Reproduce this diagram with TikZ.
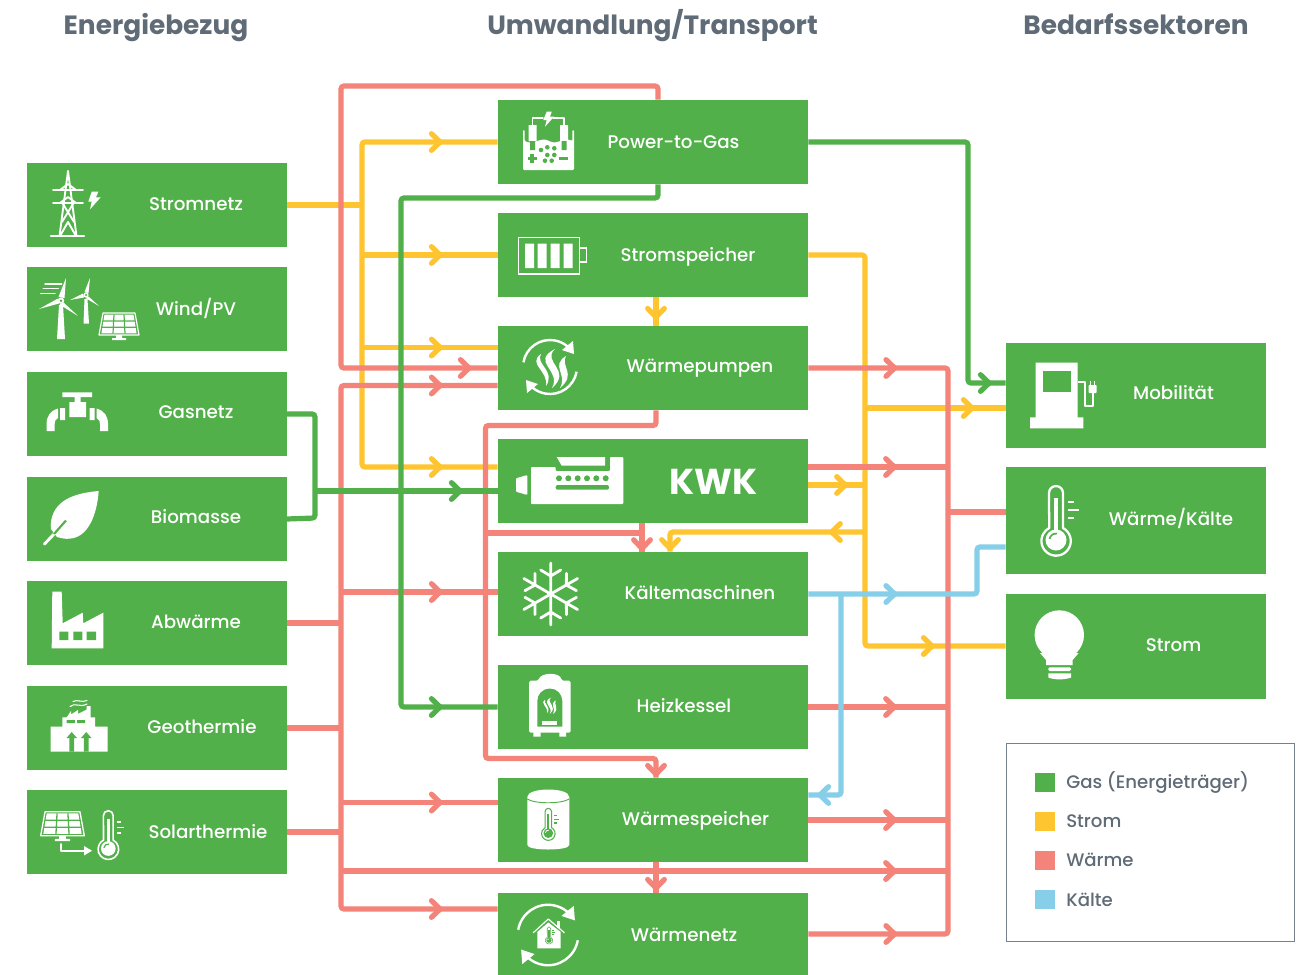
\documentclass[tikz,border=0pt]{standalone}
\usepackage{fontspec}
\setmainfont{Poppins Medium}[BoldFont={Poppins Bold}]
\usetikzlibrary{arrows.meta,decorations.markings,calc}
\definecolor{gas}{HTML}{52B04A}
\definecolor{strom}{HTML}{FFC530}
\definecolor{heat}{HTML}{F48379}
\definecolor{cold}{HTML}{87CEE8}
\definecolor{grayt}{HTML}{5F6B76}
\tikzset{
  box/.style={rectangle,fill=gas,draw=none,inner sep=0pt,minimum width=195pt,minimum height=63pt},
  midbox/.style={box,minimum width=232.5pt},
  lbl/.style={text=white,font=\fontsize{13.7}{16}\selectfont,inner sep=0pt,text height=10pt,text depth=0pt},
  head/.style={text=grayt,font=\fontsize{19.8}{22}\selectfont\bfseries,inner sep=0pt,text height=14.5pt,text depth=0pt},
  legt/.style={text=grayt,font=\fontsize{13.6}{16}\selectfont,inner sep=0pt,anchor=west,text height=10.5pt,text depth=0pt},
  swatch/.style={rectangle,draw=none,inner sep=0pt,minimum width=14.4pt,minimum height=14.4pt},
  conn/.style={line width=3.9pt,rounded corners=2.2pt},
  sconn/.style={conn,color=strom},
  hconn/.style={conn,color=heat},
  gconn/.style={conn,color=gas},
  cconn/.style={conn,color=cold},
  tipat/.style={postaction={decorate,decoration={markings,mark=at position #1 with {\arrow{Straight Barb[length=6.5pt,width=12.5pt,line width=3.9pt,round]}}}}},
  wl/.style={draw=white,line width=1.4pt,line cap=round,line join=round},
  wf/.style={fill=white,draw=none}
}
% thermometer: x, y(top), scale, main colour, contrast colour
\newcommand\thermoicon[5]{%
  \begin{scope}[shift={(#1,#2)},scale=#3]
    \draw[draw=#4,line width=#3*1.7pt,line join=round] (-7,7) arc (180:360:7) -- (7,42) arc (-62:242:14.7) -- cycle;
    \fill[#4] (-2.3,12) rectangle (2.3,46);
    \fill[#4] (0,54) circle (10.5);
    \draw[draw=#5,line width=#3*1.3pt] (0,54) ++(190:6.5) arc (190:280:6.5);
    \draw[draw=#4,line width=#3*1.8pt] (12,16) -- (18,16) (12,24) -- (23,24) (12,32) -- (18,32);
  \end{scope}}
% solar panel
\newcommand\panelicon[3]{%
  \begin{scope}[shift={(#1,#2)},scale=#3]
    \draw[draw=white,line width=#3*0.9pt,line join=round] (4,0) -- (36,0) -- (40,22) -- (0,22) -- cycle;
    \fill[white] (5.5,1.6) -- (34.5,1.6) -- (37.6,20.4) -- (2.4,20.4) -- cycle;
    \draw[draw=gas,line width=#3*0.9pt] (3.8,7.9) -- (36.2,7.9) (2.9,14.2) -- (37.1,14.2) (15,1.6) -- (14,20.4) (25,1.6) -- (26,20.4);
    \fill[white] (17,22) rectangle (23,25) (13,25) rectangle (27,27);
  \end{scope}}
% two circular arrows
\newcommand\cycicon[3]{%
  \begin{scope}[shift={(#1,#2)},scale=#3]
    \draw[draw=white,line width=1.8pt] (190:27) arc (190:310:27);
    \draw[draw=white,line width=1.8pt] (10:27) arc (10:130:27);
    \fill[white] (23,-26) -- (12,-17) -- (24,-13) -- cycle;
    \fill[white] (-23,26) -- (-12,17) -- (-24,13) -- cycle;
  \end{scope}}
% three flames
\newcommand\flameicon[4]{%
  \begin{scope}[shift={(#1,#2)},scale=#3]
    \fill[#4] (5,-18) .. controls (-20,-5) and (12,3) .. (2,21) .. controls (23,3) and (-9,-5) .. cycle;
    \fill[#4] (-9,-13) .. controls (-23,-3) and (-1,4) .. (-4,19) .. controls (6,4) and (-15,-3) .. cycle;
    \fill[#4] (16,-11) .. controls (0,-1) and (18,7) .. (10,21) .. controls (27,7) and (10,-1) .. cycle;
  \end{scope}}
\begin{document}
\begin{tikzpicture}[x=0.75pt,y=-0.75pt]
\useasboundingbox (0,0) rectangle (1304,975);
\fill[white] (0,0) rectangle (1304,975);

% ---------- boxes
\node[box] (stromnetz) at (156.5,205) {};
\node[box] (wind) at (156.5,309) {};
\node[box] (gasnetz) at (156.5,414) {};
\node[box] (biomasse) at (156.5,519) {};
\node[box] (abw) at (156.5,623) {};
\node[box] (geo) at (156.5,728) {};
\node[box] (solar) at (156.5,832) {};
\node[midbox] (ptg) at (653,142) {};
\node[midbox] (sp) at (653,255) {};
\node[midbox] (wp) at (653,368) {};
\node[midbox] (kwk) at (653,481) {};
\node[midbox] (kaelte) at (653,594) {};
\node[midbox] (hk) at (653,707) {};
\node[midbox] (ws) at (653,820) {};
\node[midbox,minimum height=61.5pt] (wn) at (653,934) {};
\node[box,minimum height=78.75pt] (mob) at (1136,395.5) {};
\node[box,minimum height=80.25pt] (wk) at (1136,520.5) {};
\node[box,minimum height=78.75pt] (st) at (1136,646.5) {};

% ---------- yellow connectors
\draw[sconn] (stromnetz.east) -- (362,205);
\draw[sconn,tipat=-41.25pt] (362,230) -- (362,142) -- (ptg.west);
\draw[sconn,tipat=-41.25pt] (362,230) -- (362,467) -- (kwk.west |- 0,467);
\draw[sconn,tipat=-41.25pt] (362,255) -- (sp.west);
\draw[sconn,tipat=-41.25pt] (362,347.5) -- (wp.west |- 0,347.5);
\draw[sconn,tipat=-53.25pt] (sp.east) -- (865,255) -- (865,646) -- (st.west |- 0,646);
\draw[sconn,tipat=-23.25pt] (865,408) -- (mob.west |- 0,408);
\draw[sconn,tipat=-12.75pt] (kwk.east |- 0,485) -- (865,485);
\draw[sconn,tipat=27pt,tipat=-0.6pt] (865,532) -- (670,532) -- (kaelte.north -| 670,0);
\draw[sconn,tipat=-4.5pt] (sp.south -| 656,0) -- (wp.north -| 656,0);

% ---------- red connectors
\draw[hconn,tipat=-19.5pt] (ptg.north -| 658,0) -- (658,86) -- (341,86) -- (341,368) -- (wp.west);
\draw[hconn,tipat=-41.25pt] (341,650) -- (341,385.5) -- (wp.west |- 0,385.5);
\draw[hconn,tipat=-41.25pt] (341,650) -- (341,909) -- (wn.west |- 0,909);
\draw[hconn] (abw.east) -- (341,623);
\draw[hconn] (geo.east) -- (341,728);
\draw[hconn] (solar.east) -- (341,832);
\draw[hconn,tipat=-41.25pt] (341,592) -- (kaelte.west |- 0,592);
\draw[hconn,tipat=-41.25pt] (341,802.5) -- (ws.west |- 0,802.5);
\draw[hconn,tipat=-38.25pt] (341,871) -- (948,871);
\draw[hconn,tipat=-0.75pt] (wp.south -| 656,0) -- (656,425.5) -- (485.5,425.5) -- (485.5,758.5) -- (656,758.5) -- (ws.north -| 656,0);
\draw[hconn,tipat=-0.5pt] (kwk.south -| 642,0) -- (kaelte.north -| 642,0);
\draw[hconn] (485.5,533) -- (642,533);
\draw[hconn,tipat=-1.5pt] (ws.south -| 656,0) -- (wn.north -| 656,0);
\draw[hconn,tipat=66.75pt] (wp.east) -- (948,368) -- (948,600);
\draw[hconn,tipat=66.75pt] (wn.east) -- (948,934) -- (948,600);
\draw[hconn,tipat=-38.25pt] (kwk.east |- 0,467) -- (948,467);
\draw[hconn,tipat=-38.25pt] (hk.east) -- (948,707);
\draw[hconn,tipat=-38.25pt] (ws.east) -- (948,820);
\draw[hconn] (948,512) -- (wk.west |- 0,512);

% ---------- green connectors
\draw[gconn] (gasnetz.east) -- (315,414) -- (315,491);
\draw[gconn] (biomasse.east) -- (315,518) -- (315,491);
\draw[gconn,tipat=-26.25pt] (315,491) -- (kwk.west |- 0,491);
\draw[gconn,tipat=-10.5pt] (ptg.east) -- (968,142) -- (968,383) -- (mob.west |- 0,383);
\draw[gconn,tipat=-41.25pt] (ptg.south -| 658,0) -- (658,198) -- (401,198) -- (401,707) -- (hk.west);

% ---------- blue connectors
\draw[cconn,tipat=66.75pt] (kaelte.east) -- (977,594) -- (977,547) -- (wk.west |- 0,547);
\draw[cconn,tipat=-6.75pt] (841,594) -- (841,795) -- (ws.east |- 0,795);

% ---------- labels
\node[head] (h1) at (156,25) {Energiebezug};
\node[head] (h2) at (652.5,25) {Umwandlung/Transport};
\node[head] (h3) at (1136,25) {Bedarfssektoren};
\node[lbl] (l1) at (196,203.5) {Stromnetz};
\node[lbl] (l2) at (196,308.5) {Wind/PV};
\node[lbl] (l3) at (196,411.5) {Gasnetz};
\node[lbl] (l4) at (196,516.5) {Biomasse};
\node[lbl] (l5) at (196,621.5) {Abwärme};
\node[lbl] (l6) at (202,726.5) {Geothermie};
\node[lbl] (l7) at (208,831.5) {Solarthermie};
\node[lbl] (l8) at (673.5,141.5) {Power-to-Gas};
\node[lbl] (l9) at (688,254.5) {Stromspeicher};
\node[lbl] (l10) at (700,365.5) {Wärmepumpen};
\node[lbl,font=\fontsize{27}{30}\selectfont\bfseries,text height=19pt] (l11) at (713.5,481.5) {KWK};
\node[lbl] (l12) at (700,592.5) {Kältemaschinen};
\node[lbl] (l13) at (684,705.5) {Heizkessel};
\node[lbl] (l14) at (695.5,818.5) {Wärmespeicher};
\node[lbl] (l15) at (684,934.5) {Wärmenetz};
\node[lbl] (l16) at (1173.5,392.5) {Mobilität};
\node[lbl] (l17) at (1171,518.5) {Wärme/Kälte};
\node[lbl] (l18) at (1173.5,644.5) {Strom};

% ---------- legend
\node[rectangle,draw=grayt!85,line width=1.3pt,fill=white,inner sep=0pt,minimum width=216pt,minimum height=148.5pt] (legend) at (1150.5,842.5) {};
\node[swatch,fill=gas] (s1) at (1045,782.5) {};
\node[swatch,fill=strom] (s2) at (1045,821.5) {};
\node[swatch,fill=heat] (s3) at (1045,860.5) {};
\node[swatch,fill=cold] (s4) at (1045,899.5) {};
\node[legt] (t1) at (1066,781) {Gas (Energieträger)};
\node[legt] (t2) at (1066,820) {Strom};
\node[legt] (t3) at (1066,859.5) {Wärme};
\node[legt] (t4) at (1066,899.5) {Kälte};

% ---------- icons
% pylon
\draw[wl] (68,171) -- (59.5,236) (68,171) -- (76.5,236);
\draw[wl] (53,190) -- (83,190) (60,190) -- (68,184) -- (76,190) (53,203) -- (83,203) (60,203) -- (68,197) -- (76,203);
\draw[wl] (63,204) -- (74,222) (73,204) -- (62,222) (60,236) -- (68,222) -- (76,236);
\draw[wl,line width=1.8pt] (51,236) -- (84,236);
\fill[white] (91.7,191.7) -- (88.3,201.7) -- (91.7,201.7) -- (90,209.3) -- (100.7,197.3) -- (96,197.3) -- (98.3,191.7) -- cycle;
% wind / pv
\fill[white] (58.5,297) -- (66,278) -- (64.5,298) -- cycle (58,298.5) -- (39,309) -- (59,303.5) -- cycle (63.5,302.5) -- (78,316) -- (59.5,304.5) -- cycle (59,305) -- (63,305) -- (65,339) -- (57,339) -- cycle;
\fill[white] (61,300.7) circle (3.2);
\fill[gas] (61,300.7) circle (1.3);
\fill[white] (84.5,292) -- (90,278) -- (88.5,293) -- cycle (83,293.5) -- (70,300) -- (84,297.5) -- cycle (88.5,296.5) -- (99,306) -- (85.5,298) -- cycle (84.5,299) -- (87.5,299) -- (89,323.5) -- (83.5,323.5) -- cycle;
\fill[white] (86,295) circle (2.6);
\fill[gas] (86,295) circle (1.1);
\draw[wl,line width=1.1pt] (45,284) -- (61.7,284) (43.3,288.3) -- (58.3,288.3) (40.7,293.3) -- (55,293.3);
\panelicon{99}{313}{1}
% tap
\fill[white] (62.3,392.3) rectangle (92,397) (74.5,397) rectangle (80.5,403) (69.3,402) rectangle (86,417) (60,408) rectangle (65,420) (89.6,408) rectangle (94.6,420);
\fill[white] (46.5,431) -- (46.5,425) .. controls (46.5,416) and (50,411) .. (58,408.5) -- (58,418) .. controls (55,419) and (54.5,422) .. (54.5,425) -- (54.5,431) -- cycle;
\fill[white] (108.1,431) -- (108.1,425) .. controls (108.1,416) and (104.6,411) .. (96.6,408.5) -- (96.6,418) .. controls (99.6,419) and (100.1,422) .. (100.1,425) -- (100.1,431) -- cycle;
% leaf
\fill[white] (98.7,491) .. controls (75,493) and (52,500) .. (50.7,525) -- (51,529) -- (57,537) .. controls (62,538.5) and (66,539) .. (69,538.7) .. controls (88,538) and (97,515) .. (98.7,491) -- cycle;
\draw[wl,line width=2.2pt] (44.5,544) -- (56,532);
\draw[draw=gas,line width=1.6pt] (54,534) -- (66,520.5);
% factory
\fill[white] (52.3,591.7) -- (61.7,591.7) -- (62.7,623.3) -- (82.7,612.7) -- (83.3,623.3) -- (103.3,612.7) -- (103.3,648.3) -- (51.7,648.3) -- cycle;
\fill[gas] (59.3,631.7) rectangle (68.3,640) (73.3,631.7) rectangle (82.3,640) (86.7,631.7) rectangle (96,640);
% geothermal
\fill[white] (50.7,751.7) -- (50.7,726.7) -- (62.3,726.7) -- (62.3,717.3) -- (66.7,717.3) -- (71,711) -- (71,714.5) -- (78,710) -- (78,714) -- (86.7,709.5) -- (86.7,706) -- (90.7,706) -- (90.7,717.3) -- (95,717.3) -- (95,726.7) -- (107.7,726.7) -- (107.7,751.7) -- cycle;
\fill[gas] (66.7,720) rectangle (75,723) (77,720) rectangle (85,723);
\fill[gas] (69.3,751.7) -- (69.3,738) -- (66.5,738) -- (71.7,732) -- (77,738) -- (74.2,738) -- (74.2,751.7) -- cycle;
\fill[gas] (83.8,751.7) -- (83.8,738) -- (81,738) -- (86.2,732) -- (91.5,738) -- (88.7,738) -- (88.7,751.7) -- cycle;
\draw[wl,line width=0.8pt] (70,706.5) .. controls (75,702) and (80,708) .. (87,704) (73,701.5) .. controls (77,699) and (82,703) .. (87,700.5);
% solarthermie
\panelicon{40.7}{811.7}{1.09}
\draw[wl,line width=1.3pt] (61,844) -- (61,850.7) -- (86,850.7);
\fill[white] (84,846) -- (92,850.7) -- (84,855.5) -- cycle;
\thermoicon{108.3}{810.7}{0.7}{white}{gas}
% power-to-gas
\fill[white,rounded corners=0.8pt] (523,130) -- (523,170) -- (574,170) -- (574,130) -- (572.3,130) -- (572.3,141) .. controls (564,137) and (558,145) .. (549,141) .. controls (541,137) and (533,145) .. (524.7,141) -- (524.7,130) -- cycle;
\fill[white] (528.5,125) rectangle (536.5,141) (560,125) rectangle (568,141);
\fill[gas] (530,141) rectangle (535,150) (561.5,141) rectangle (566.5,150);
\draw[wl,line width=1.1pt] (532.5,125) -- (532.5,118) -- (543,118) (553,118) -- (564,118) -- (564,125);
\fill[white] (546.7,111.7) -- (543.3,120) -- (546.7,120) -- (545,126.7) -- (554,116.7) -- (550,116.7) -- (551.7,111.7) -- cycle;
\fill[gas] (541,150) circle (2.3) (547.3,147.3) circle (2.3) (554.3,148.3) circle (2.3) (547.3,155) circle (2.3) (554.3,155) circle (2.3) (545,160.7) circle (2.3) (551.7,160.7) circle (2.3);
\draw[draw=gas,line width=2.4pt] (527.5,158.3) -- (536.5,158.3) (532,153.8) -- (532,162.8) (559,158.3) -- (567.5,158.3);
% battery
\draw[draw=white,line width=0.9pt] (518.7,237.3) rectangle (579.3,274) (579.3,248) -- (586.7,248) -- (586.7,262) -- (579.3,262);
\fill[white] (525,243.5) rectangle (534,268) (537.7,243.5) rectangle (546.7,268) (550.7,243.5) rectangle (559.7,268) (563.7,243.5) rectangle (572.7,268);
% heat pump
\cycicon{550}{367}{1}
\flameicon{550}{367}{1}{white}
% kwk
\fill[white,rounded corners=0.7pt] (531,467) -- (555.7,467) -- (555.7,471) -- (610,471) -- (610,457) -- (623.3,457) -- (623.3,504) -- (531,504) -- cycle;
\fill[white] (556.7,457) -- (605,457) -- (605,465.7) -- (561.7,465.7) -- cycle;
\fill[gas] (559,478.3) circle (3) (568.3,478.3) circle (3) (577.7,478.3) circle (3) (587,478.3) circle (3) (596.3,478.3) circle (3) (605.7,478.3) circle (3);
\fill[gas,rounded corners=1.5pt] (555.7,485) rectangle (609,489.7);
\fill[white,rounded corners=0.7pt] (516,478.3) -- (527.3,475) -- (527.3,495) -- (516,491.7) -- cycle;
% snowflake
\begin{scope}[shift={(550.7,594)}]
\foreach \a in {0,60,...,300}{
  \begin{scope}[rotate=\a]
    \draw[wl,line width=2.1pt] (0,0) -- (0,-31) (-10,-24) -- (0,-18) -- (10,-24);
  \end{scope}}
\end{scope}
% boiler
\fill[white,rounded corners=1.2pt] (529,680.7) -- (538.3,680.7) .. controls (541,672) and (560,672) .. (561.7,680.7) -- (570.7,680.7) -- (570.7,732.7) -- (529,732.7) -- cycle;
\fill[white] (533.3,732) rectangle (540.7,736.7) (559.3,732) rectangle (566,736.7);
\fill[gas] (537.3,726.7) -- (537.3,701) arc (180:360:12.5) -- (562.3,726.7) -- cycle;
\flameicon{549}{705}{0.42}{white}
\fill[white] (542,721) rectangle (556.7,724.5);
% storage
\fill[white] (527.3,797) .. controls (527.3,787) and (569.3,787) .. (569.3,797) -- (569.3,845) .. controls (569.3,851) and (527.3,851) .. (527.3,845) -- cycle;
\draw[draw=gas,line width=0.7pt] (527.3,799) .. controls (535,804) and (561,804) .. (569.3,799);
\thermoicon{548.3}{808.3}{0.46}{gas}{white}
% heat network
\cycicon{548}{935}{1.12}
\fill[white] (537.3,948.3) -- (537.3,932) -- (548.3,922.5) -- (560.7,932) -- (560.7,948.3) -- cycle;
\draw[wl,line width=0.9pt] (533.3,932.7) -- (548.3,919) -- (564.3,932.7);
\fill[white] (556.7,921) rectangle (560,928);
\thermoicon{549}{926.7}{0.25}{gas}{white}
% petrol pump
\fill[white] (1035.7,362.7) rectangle (1077.7,417.3) (1030,417.3) rectangle (1083.3,428.3);
\fill[gas] (1042.7,370.7) rectangle (1070.7,391.7);
\draw[wl,line width=1.3pt,line cap=butt] (1077.7,381.7) -- (1085,381.7) -- (1085,405.7) -- (1093,405.7) -- (1093,393);
\fill[white,rounded corners=0.6pt] (1088.5,385) rectangle (1096.7,393);
\draw[wl,line width=1.1pt,line cap=butt] (1090.5,381) -- (1090.5,385) (1094.5,381) -- (1094.5,385);
% thermometer
\thermoicon{1056}{486}{1}{white}{gas}
% bulb
\fill[white] (1059.3,635) circle (24.7);
\fill[white] (1040,653) -- (1046,660) -- (1046,665) -- (1072.7,665) -- (1072.7,660) -- (1078.6,653) -- cycle;
\fill[white,rounded corners=1pt] (1048.3,667.3) rectangle (1071,671);
\fill[white] (1048.3,673.3) -- (1071,673.3) -- (1071,677.5) .. controls (1065,680) and (1054,680) .. (1048.3,677.5) -- cycle;
\end{tikzpicture}
\end{document}
